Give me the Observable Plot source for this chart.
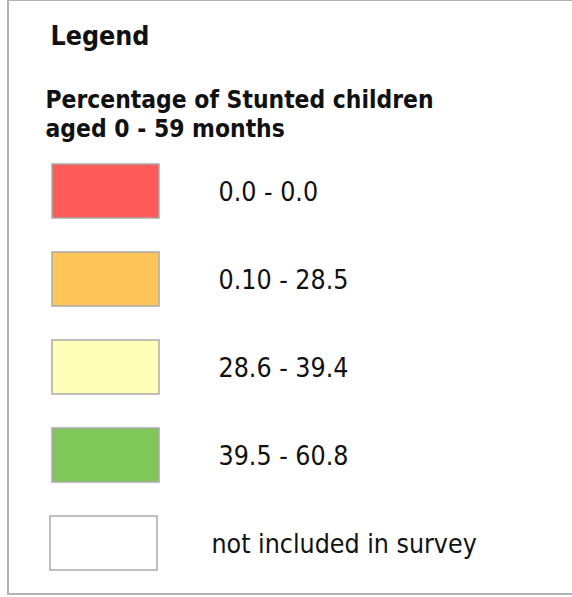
<!DOCTYPE html>
<html>
<head>
<meta charset="utf-8">
<script src="https://cdn.jsdelivr.net/npm/d3@7"></script>
<script src="https://cdn.jsdelivr.net/npm/@observablehq/plot@0.6"></script>
<style>
  html, body { margin: 0; padding: 0; background: #fff; }
  #wrap { position: relative; width: 572px; height: 597px; overflow: hidden; }
  #frame { position: absolute; left: 7px; top: -1px; width: 600px; height: 596px;
           border-left: 2px solid #b3b3b3; border-top: 2px solid #b3b3b3; border-bottom: 2px solid #b3b3b3; box-sizing: border-box; }
  #wrap svg { position: absolute; left: 0; top: 0; }
</style>
</head>
<body>
<div id="wrap"><div id="frame"></div></div>
<script>
const title = "Legend";
const subtitleLines = ["Percentage of Stunted children", "aged 0 - 59 months"];
const classes = ["0.0 - 0.0", "0.10 - 28.5", "28.6 - 39.4", "39.5 - 60.8", "not included in survey"];
const colors = ["#ff5a5a", "#ffc558", "#ffffb9", "#80c75a", "#ffffff"];

const rows = classes.map((c, i) => ({label: c, color: colors[i], none: i === classes.length - 1}));
const font = "'DejaVu Sans Condensed', 'DejaVu Sans', sans-serif";

const chart = Plot.plot({
  width: 572,
  height: 597,
  margin: 0,
  style: {fontFamily: font, background: "transparent", overflow: "visible"},
  x: {domain: [0, 572], range: [0, 572], axis: null},
  y: {type: "band", domain: classes, range: [145, 589], padding: 0, axis: null},
  marks: [
    Plot.barX(rows, {
      x1: d => d.none ? 50 : 52,
      x2: d => d.none ? 157 : 159,
      y: "label",
      fill: "color",
      stroke: "#aaaaaa",
      strokeWidth: 1.5,
      insetTop: 17,
      insetBottom: 17
    }),
    Plot.text(rows, {
      x: d => d.none ? 211 : 218,
      y: "label",
      text: "label",
      textAnchor: "start",
      fontSize: 26.5,
      fill: "#111",
      dy: 1.5
    }),
    Plot.text([title], {
      frameAnchor: "top-left", dx: 50, dy: 26, text: d => d,
      fontSize: 26.6, fontWeight: "bold", fill: "#111", lineAnchor: "top"
    }),
    Plot.text([subtitleLines.join("\n")], {
      frameAnchor: "top-left", dx: 45, dy: 86.5, text: d => d,
      fontSize: 24.4, fontWeight: "bold", fill: "#111", lineAnchor: "top", lineHeight: 1.19
    })
  ]
});
document.getElementById("wrap").appendChild(chart);
</script>
</body>
</html>
